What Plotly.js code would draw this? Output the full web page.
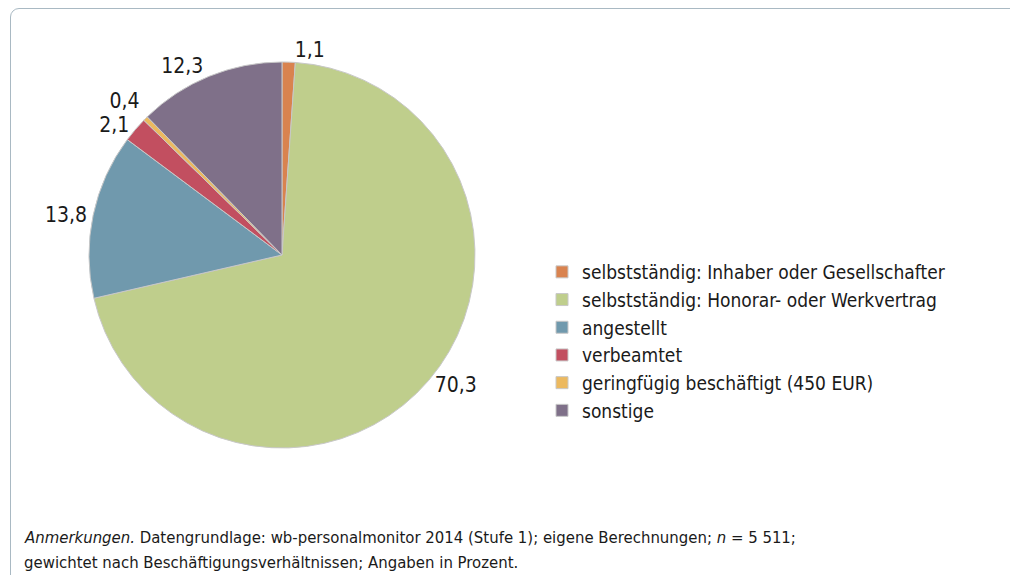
<!DOCTYPE html>
<html>
<head>
<meta charset="utf-8">
<script src="https://cdn.plot.ly/plotly-3.0.1.min.js"></script>
<style>
html,body{margin:0;padding:0;background:#fff;}
#wrap{position:relative;width:1010px;height:575px;overflow:hidden;}
#frame{position:absolute;left:10px;top:8px;width:1100px;height:700px;border:1.5px solid #a9b9c3;border-radius:9px;box-sizing:border-box;}
#chart{position:absolute;left:0;top:0;width:1010px;height:575px;}
</style>
</head>
<body>
<div id="wrap"><div id="frame"></div><div id="chart"></div></div>
<script>
const categories = [
  "selbstständig: Inhaber oder Gesellschafter",
  "selbstständig: Honorar- oder Werkvertrag",
  "angestellt",
  "verbeamtet",
  "geringfügig beschäftigt (450 EUR)",
  "sonstige"
];
const values = [1.1, 70.3, 13.8, 2.1, 0.4, 12.3];
const colors = ["#d9834f", "#bfce8c", "#7099ad", "#c24f60", "#ecb95f", "#7f7089"];
const footnoteLines = [
  "<i>Anmerkungen.</i> Datengrundlage: wb-personalmonitor 2014 (Stufe 1); eigene Berechnungen; <i>n</i> = 5 511;",
  "gewichtet nach Beschäftigungsverhältnissen; Angaben in Prozent."
];

const FONT = "'DejaVu Sans Condensed', 'Open Sans', sans-serif";

const trace = {
  type: "pie",
  labels: categories,
  values: values,
  sort: false,
  direction: "clockwise",
  rotation: 0,
  marker: {colors: colors, line: {color: "#c8c8c8", width: 1}},
  textinfo: "value",
  texttemplate: "%{value:.1f}",
  textposition: "outside",
  outsidetextfont: {family: FONT, size: 21, color: "#1a1a1a"},
  hoverinfo: "label+value",
  domain: {x: [89/1010, 475/1010], y: [1 - 448/575, 1 - 62/575]}
};

const annotations = footnoteLines.map((t, i) => ({
  xref: "paper", yref: "paper", x: 22/1010, y: 1 - (537 + 25*i)/575,
  xanchor: "left", yanchor: "middle", align: "left", showarrow: false,
  text: t,
  font: {family: FONT, size: 16.6, color: "#1a1a1a"}
}));

const layout = {
  width: 1010,
  height: 575,
  margin: {l: 0, r: 0, t: 0, b: 0},
  paper_bgcolor: "rgba(0,0,0,0)",
  plot_bgcolor: "rgba(0,0,0,0)",
  separators: ", ",
  showlegend: true,
  legend: {
    x: 542/1010, y: 1 - 253/575, xanchor: "left", yanchor: "top",
    font: {family: FONT, size: 19, color: "#1a1a1a"},
    tracegroupgap: 0,
    bgcolor: "rgba(0,0,0,0)"
  },
  annotations: annotations
};

Plotly.newPlot("chart", [trace], layout, {displayModeBar: false, staticPlot: true}).then(() => {
  document.querySelectorAll("#chart path.textline").forEach(p => p.remove());
});
</script>
</body>
</html>
